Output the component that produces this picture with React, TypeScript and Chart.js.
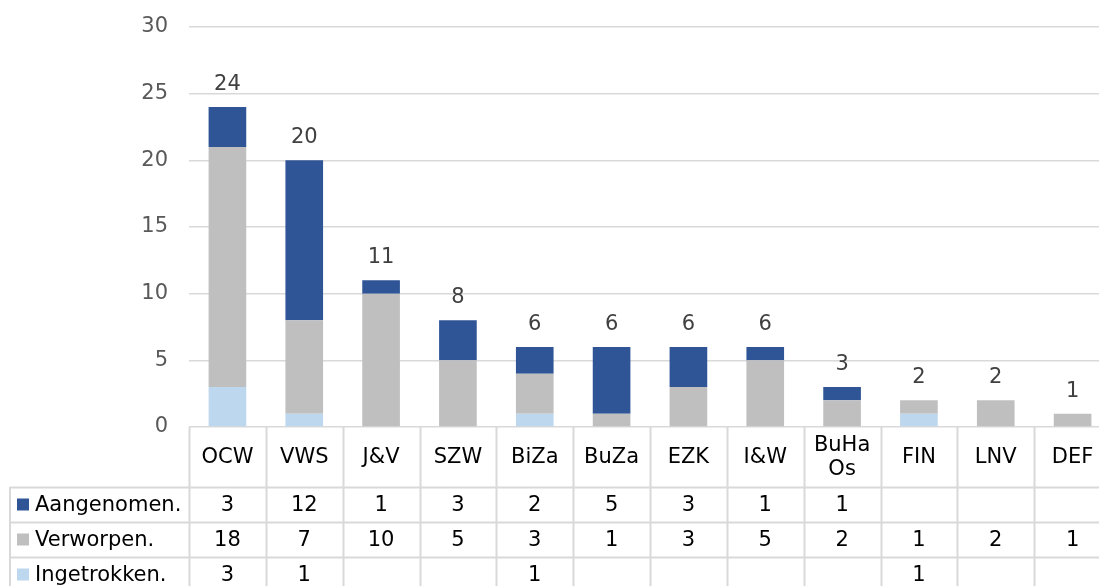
import React, { useEffect, useRef } from "react";
import { Chart, registerables } from "chart.js";

Chart.register(...registerables);

const categories: (string | string[])[] = ["OCW", "VWS", "J&V", "SZW", "BiZa", "BuZa", "EZK", "I&W", ["BuHa", "Os"], "FIN", "LNV", "DEF"];
const aangenomen: (number | null)[] = [3, 12, 1, 3, 2, 5, 3, 1, 1, null, null, null];
const verworpen: (number | null)[] = [18, 7, 10, 5, 3, 1, 3, 5, 2, 1, 2, 1];
const ingetrokken: (number | null)[] = [3, 1, null, null, 1, null, null, null, null, 1, null, null];
const yTicks = [0, 5, 10, 15, 20, 25, 30];

const seriesNames = ["Aangenomen.", "Verworpen.", "Ingetrokken."];
const colors = { aangenomen: "#2F5597", verworpen: "#BFBFBF", ingetrokken: "#BDD7EE" };
const FONT = "Verdana, 'DejaVu Sans', sans-serif";
const FS = 21;

const tablePlugin = {
  id: "dataTable",
  afterDraw(chart: any) {
    const ctx = chart.ctx as CanvasRenderingContext2D;
    const x = chart.scales.x;
    const y = chart.scales.y;
    const area = chart.chartArea;
    const n = categories.length;
    const step = (area.right - area.left) / n;
    const top = area.bottom;
    const headerBottom = top + 60;
    const rowH = 35;
    const H = chart.height;

    ctx.save();
    // totals above bars
    ctx.font = `${FS}px ${FONT}`;
    ctx.fillStyle = "#404040";
    ctx.textAlign = "center";
    ctx.textBaseline = "alphabetic";
    for (let i = 0; i < n; i++) {
      const total = (aangenomen[i] || 0) + (verworpen[i] || 0) + (ingetrokken[i] || 0);
      const px = x.getPixelForValue(i);
      const py = y.getPixelForValue(total);
      ctx.fillText(String(total), px, py - 17);
    }

    // table lines
    ctx.strokeStyle = "#D9D9D9";
    ctx.lineWidth = 2;
    ctx.beginPath();
    for (let i = 0; i <= n; i++) {
      const bx = Math.round(area.left + i * step) + 0.5;
      ctx.moveTo(bx, top);
      ctx.lineTo(bx, H + 10);
    }
    const leftX = 10;
    ctx.moveTo(leftX, headerBottom);
    ctx.lineTo(leftX, H + 10);
    for (let r = 0; r < 3; r++) {
      const ly = Math.round(headerBottom + r * rowH) + 0.5;
      ctx.moveTo(leftX, ly);
      ctx.lineTo(area.right, ly);
    }
    ctx.stroke();

    // header labels
    ctx.fillStyle = "#000000";
    ctx.textBaseline = "middle";
    ctx.textAlign = "center";
    ctx.font = `${FS}px ${FONT}`;
    for (let i = 0; i < n; i++) {
      const px = x.getPixelForValue(i);
      const lab = categories[i];
      const lines = Array.isArray(lab) ? lab : [lab];
      const lh = 24;
      const cy = (top + headerBottom) / 2 + 1;
      lines.forEach((ln, k) => {
        ctx.fillText(ln, px, cy + (k - (lines.length - 1) / 2) * lh);
      });
    }

    // rows
    const rows = [aangenomen, verworpen, ingetrokken];
    const rowColors = [colors.aangenomen, colors.verworpen, colors.ingetrokken];
    rows.forEach((vals, r) => {
      const cy = headerBottom + r * rowH + rowH / 2 + 1;
      ctx.fillStyle = rowColors[r];
      ctx.fillRect(17, cy - 7, 12, 12);
      ctx.fillStyle = "#000000";
      ctx.textAlign = "left";
      ctx.fillText(seriesNames[r], 35, cy);
      ctx.textAlign = "center";
      vals.forEach((v, i) => {
        if (v !== null && v !== undefined) ctx.fillText(String(v), x.getPixelForValue(i), cy);
      });
    });
    ctx.restore();
  },
};

export default function App() {
  const ref = useRef<HTMLCanvasElement>(null);
  useEffect(() => {
    if (!ref.current) return;
    const chart = new Chart(ref.current, {
      type: "bar",
      data: {
        labels: categories.map((c) => (Array.isArray(c) ? c.join("") : c)),
        datasets: [
          { label: seriesNames[2], data: ingetrokken, backgroundColor: colors.ingetrokken, stack: "s" },
          { label: seriesNames[1], data: verworpen, backgroundColor: colors.verworpen, stack: "s" },
          { label: seriesNames[0], data: aangenomen, backgroundColor: colors.aangenomen, stack: "s" },
        ],
      },
      options: {
        animation: false,
        responsive: false,
        layout: { padding: { top: 27, bottom: 159, left: 0, right: 0 } },
        datasets: { bar: { categoryPercentage: 1, barPercentage: 0.49 } },
        plugins: { legend: { display: false }, tooltip: { enabled: false } },
        scales: {
          x: { display: false, stacked: true },
          y: {
            stacked: true,
            min: 0,
            max: 30,
            afterBuildTicks: (s: any) => {
              s.ticks = yTicks.map((v) => ({ value: v }));
            },
            afterFit: (s: any) => {
              s.width = 189;
              s.paddingTop = 0;
              s.paddingBottom = 0;
            },
            border: { display: false },
            grid: { color: "#D9D9D9", lineWidth: 1.5, drawTicks: false },
            ticks: { padding: 21, color: "#595959", font: { family: FONT, size: FS } },
          },
        },
      },
      plugins: [tablePlugin],
    });
    return () => chart.destroy();
  }, []);
  return (
    <div style={{ position: "fixed", left: 0, top: 0, width: 1099, height: 586, overflow: "hidden", background: "#fff" }}>
      <canvas ref={ref} width={1111} height={586} style={{ width: 1111, height: 586 }} />
    </div>
  );
}
